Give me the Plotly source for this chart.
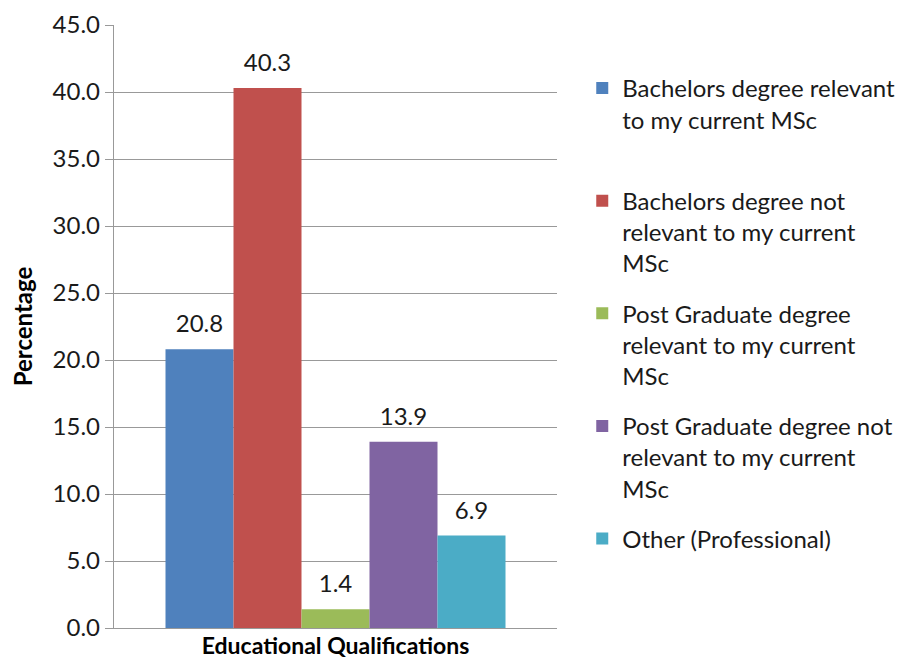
import plotly.graph_objects as go

category = ["Educational Qualifications"]
series_names = [
    "Bachelors degree relevant<br>to my current MSc<br> ",
    "Bachelors degree not<br>relevant to my current<br>MSc",
    "Post Graduate degree<br>relevant to my current<br>MSc",
    "Post Graduate degree not<br>relevant to my current<br>MSc",
    "Other (Professional)",
]
values = [20.8, 40.3, 1.4, 13.9, 6.9]
colors = ["#4F81BD", "#C0504D", "#9BBB59", "#8064A2", "#4BACC6"]
y_ticks = [0, 5, 10, 15, 20, 25, 30, 35, 40, 45]

FONT = "Lato, 'Open Sans', sans-serif"
TXT = "#1a1a1a"
GAP = 0.2325

fig = go.Figure()
for i, (name, v, c) in enumerate(zip(series_names, values, colors)):
    fig.add_trace(go.Bar(
        x=category, y=[v], name=name, marker=dict(color=c, line=dict(width=0)),
        offsetgroup=f"g{i}", legendgroup=f"g{i}",
    ))
for i, v in enumerate(values):
    fig.add_trace(go.Scatter(
        x=category, y=[v], mode="markers+text", text=[f"{v:.1f}"],
        textposition="top center", cliponaxis=False,
        marker=dict(size=16, opacity=0),
        textfont=dict(family=FONT, size=24, color=TXT),
        offsetgroup=f"g{i}", showlegend=False, hoverinfo="skip",
    ))

fig.update_layout(
    width=897, height=651,
    margin=dict(l=106, r=348, t=17, b=31, autoexpand=False),
    paper_bgcolor="white", plot_bgcolor="white",
    barmode="group", bargap=GAP, bargroupgap=0,
    scattermode="group", scattergap=GAP,
    font=dict(family=FONT, size=24, color=TXT),
    showlegend=True,
    legend=dict(
        x=1.057, xanchor="left", y=0.932, yanchor="top", valign="top",
        font=dict(family=FONT, size=24, color=TXT),
        tracegroupgap=16, bgcolor="rgba(0,0,0,0)",
        itemclick=False,
    ),
)
fig.update_yaxes(
    range=[0, 45], tickvals=y_ticks, tickformat=".1f", automargin=False,
    showgrid=True, gridcolor="#999999", gridwidth=1.3,
    showline=True, linecolor="#999999", linewidth=1.3,
    ticks="outside", ticklen=8, tickcolor="#999999", tickwidth=1.3,
    tickfont=dict(family=FONT, size=24, color=TXT),
    title=dict(text="Percentage", font=dict(family=FONT, size=24, color="#000", weight="bold"), standoff=16),
    zeroline=False,
)
fig.update_xaxes(
    showline=True, linecolor="#999999", linewidth=1.3, automargin=False,
    ticks="", ticklabelstandoff=-3,
    tickfont=dict(family=FONT, size=23, color="#000", weight="bold"),
)
fig.write_html("out.html")
